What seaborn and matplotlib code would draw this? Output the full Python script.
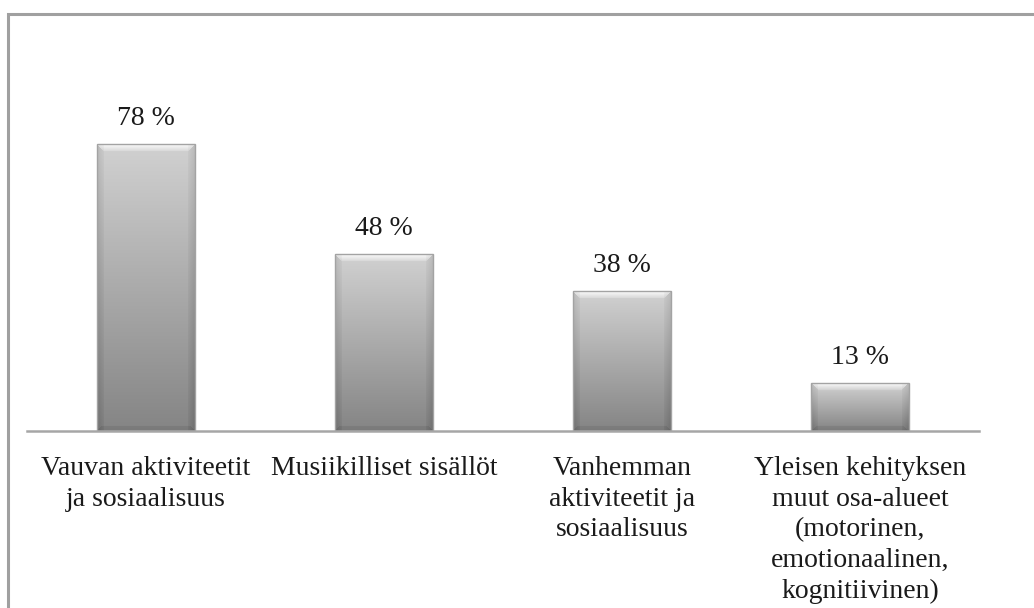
import matplotlib
matplotlib.use("Agg")
import matplotlib.pyplot as plt
import numpy as np
import pandas as pd
import seaborn as sns
from matplotlib.patches import Rectangle

# Chart data
categories = [
    "Vauvan aktiviteetit\nja sosiaalisuus",
    "Musiikilliset sisällöt",
    "Vanhemman\naktiviteetit ja\nsosiaalisuus",
    "Yleisen kehityksen\nmuut osa-alueet\n(motorinen,\nemotionaalinen,\nkognitiivinen)",
]
values = [78, 48, 38, 13]
value_labels = ["78 %", "48 %", "38 %", "13 %"]

df = pd.DataFrame({"category": categories, "value": values})

sns.set_theme(style="white")
plt.rcParams["font.family"] = ["Liberation Serif", "DejaVu Serif"]

fig = plt.figure(figsize=(10.34, 6.08), dpi=100)
ax = fig.add_axes([0.0261, 0.2911, 0.9207, 0.5444])

sns.barplot(data=df, x="category", y="value", ax=ax, width=0.41,
            color="#aaaaaa", edgecolor="#a3a3a3", linewidth=1.0)

ax.set_ylim(0, 90)
ax.set_xlim(-0.5, len(categories) - 0.5)

# Gradient fill with a soft bevel, clipped to each bar
px_per_unit = fig.dpi * fig.get_figheight() * 0.5444 / 90
for patch in ax.patches:
    x0, y0 = patch.get_x(), patch.get_y()
    w, h = patch.get_width(), patch.get_height()
    hp = max(int(h * px_per_unit), 2)
    wp = 98
    yy = np.linspace(1, 0, hp)[:, None]          # 1 at top, 0 at bottom
    xx = np.linspace(0, 1, wp)[None, :]
    img = np.repeat(0.52 + 0.30 * yy, wp, axis=1)
    side = np.minimum(xx, 1 - xx) * wp           # px from nearest side
    top = np.repeat((1 - yy) * hp, wp, axis=1)    # px from top
    bot = np.repeat(yy * hp, wp, axis=1)          # px from bottom
    bevel = 7.0
    # darker side strips
    img = np.where(side < bevel, img - 0.06 * (1 - side / bevel) - 0.02, img)
    # light top bevel with mitred corners
    top_zone = (top < bevel) & (side >= top)
    img = np.where(top_zone, np.minimum(img + 0.13 * (1 - top / bevel) + 0.03, 0.96), img)
    # slightly darker bottom bevel
    bot_zone = (bot < 5) & (side >= bot)
    img = np.where(bot_zone, img - 0.04, img)
    rgb = np.dstack([img, img, img])
    patch.set_facecolor("none")
    im = ax.imshow(rgb, extent=[x0, x0 + w, y0, y0 + h], aspect="auto",
                   zorder=patch.get_zorder() - 0.1, interpolation="bilinear")
    im.set_clip_path(patch)

ax.set_xlim(-0.5, len(categories) - 0.5)
ax.set_ylim(0, 90)

for patch, lab in zip(ax.patches, value_labels):
    ax.annotate(lab, (patch.get_x() + patch.get_width() / 2, patch.get_height()),
                xytext=(0, 18.5), textcoords="offset points", ha="center",
                va="center", fontsize=20, color="#1a1a1a")

ax.set_xlabel("")
ax.set_ylabel("")
ax.set_yticks([])
ax.tick_params(axis="x", length=0, pad=18, labelsize=20, labelcolor="#1a1a1a")
for t in ax.get_xticklabels():
    t.set_linespacing(1.3)
    t.set_verticalalignment("top")

for s in ["top", "right", "left"]:
    ax.spines[s].set_visible(False)
ax.spines["bottom"].set_color("#a6a6a6")
ax.spines["bottom"].set_linewidth(1.8)

# Outer chart frame (cut off on the right and bottom)
fig.patches.append(Rectangle((7.5 / 1034, -0.2), 1.2, 1 - 13.5 / 608 + 0.2,
                             transform=fig.transFigure, fill=False,
                             edgecolor="#a0a0a0", linewidth=2.2))

fig.savefig("out.png", dpi=100)
